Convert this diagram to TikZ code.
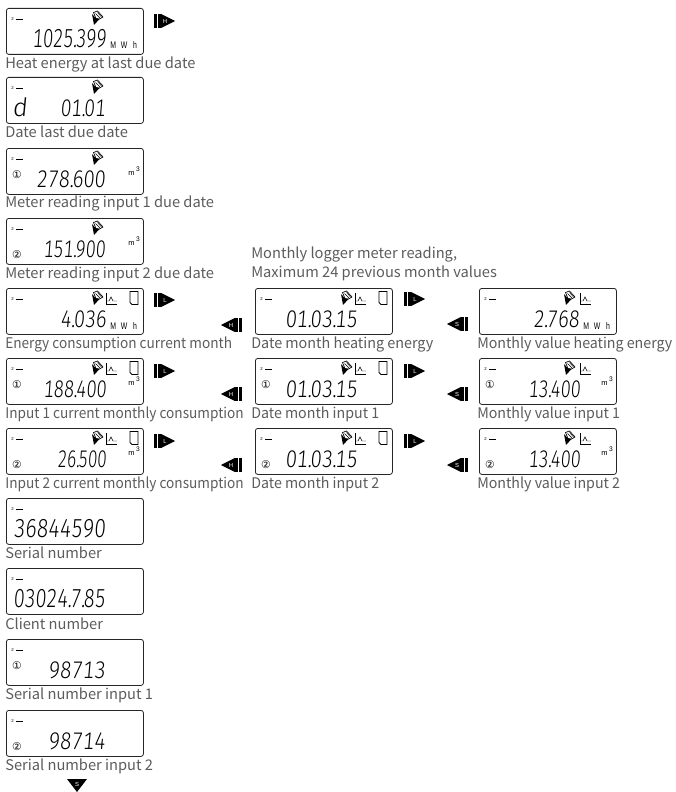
\documentclass[tikz,border=0pt]{standalone}
\usepackage{fontspec}
\setmainfont{Noto Sans CJK SC}
\newfontfamily\lcdfont[FakeSlant=0.1,Numbers={Lining,Monospaced}]{Fira Sans Light}
\newfontfamily\symfont{DejaVu Sans}
\newfontfamily\unitfont{Liberation Sans}
\definecolor{capgray}{gray}{0.36}
\newcommand{\dt}{.\kern-0.08em}
\tikzset{
 x=0.75pt,y=-0.75pt,
 lcdbox/.style={draw=black!85,line width=0.6pt,rounded corners=1.8pt,minimum width=102.75pt,minimum height=34.5pt,anchor=north west,inner sep=0pt},
 caption/.style={anchor=base west,inner sep=0pt,text=capgray,font=\fontsize{11pt}{12pt}\selectfont},
 digits/.style={anchor=base west,inner sep=0pt},
 unitlabel/.style={anchor=base west,inner sep=0pt,font=\unitfont\fontsize{7.2pt}{8pt}\selectfont},
 small2/.style={anchor=west,inner sep=0pt,font=\unitfont\fontsize{3.2pt}{4pt}\selectfont},
 inputmark/.style={anchor=center,inner sep=0pt,font=\symfont\fontsize{8pt}{9pt}\selectfont},
 keylabel/.style={inner sep=0pt,text=white,font=\unitfont\fontsize{4.4pt}{5pt}\selectfont},
}
\newcommand{\lcd}[7][18]{%
 \node[lcdbox] (#2) at (#3,#4) {};
 \node[small2] (#2two) at ([shift={(5,11)}]#2.north west) {2};
 \draw[line width=0.6pt] ([shift={(10,11)}]#2.north west) -- ([shift={(17,11)}]#2.north west);
 \pgfmathsetlengthmacro{\digw}{(#6-#5)*0.75pt}
 \node[digits] (#2d) at (#5,#4+39.5) {\resizebox{\digw}{\height}{\lcdfont\fontsize{#1pt}{#1pt}\selectfont #7}};
}
\newcommand{\capt}[5][1]{\node[caption] (#2) at (#3,#4) {\scalebox{#1}[1]{#5}};}
\newcommand{\mwh}[1]{\node[unitlabel] (#1u) at ([shift={(104,41)}]#1.north west) {\scalebox{.72}[1]{M}\kern3.6pt\scalebox{.72}[1]{W}\kern4.4pt\scalebox{.72}[1]{h}};}
\newcommand{\mcub}[1]{\node[unitlabel,font=\unitfont\fontsize{5.6pt}{6pt}\selectfont] (#1u) at ([shift={(122,27)}]#1.north west) {m\kern1.2pt\raisebox{2.6pt}{\fontsize{5pt}{5pt}\selectfont 3}};}
\newcommand{\inone}[1]{\node[inputmark] (#1i) at ([shift={(11,27)}]#1.north west) {①};}
\newcommand{\intwo}[1]{\node[inputmark] (#1i) at ([shift={(11,37)}]#1.north west) {②};}
\newcommand{\pen}[2]{%
 \begin{scope}[shift={(#1.north west)},shift={(#2,0)}]
  \fill (-5,6) -- (-3,17) -- (2.5,11) -- (-1,10.5) -- cycle;
  \draw[line width=0.5pt,line join=round] (-3.5,4.5) -- (0.5,3) -- (6,9) -- (2.5,11) -- (-1,10.5) -- cycle;
  \draw[line width=0.35pt] (-1.5,5.5) -- (3,10);
  \draw[line width=0.35pt] (0.5,4.5) -- (4.5,9);
 \end{scope}}
\newcommand{\chart}[2]{%
 \begin{scope}[shift={(#1.north west)},shift={(#2,0)}]
  \draw[line width=0.45pt] (0,5) -- (0,16) -- (11,16);
  \draw[line width=0.35pt] (0.5,13) -- (3,13) -- (5,9) -- (7,13) -- (11,13);
 \end{scope}}
\newcommand{\door}[2]{%
 \begin{scope}[shift={(#1.north west)},shift={(#2,0)}]
  \draw[line width=0.55pt] (0,3.5) -- (8,3.5) -- (8,16.5) -- (2,16.5) -- (0,14.5) -- cycle;
 \end{scope}}
\newcommand{\keyright}[4]{%
 \fill (#2,#3-7) rectangle ++(3,14);
 \fill (#2+3.8,#3-7) rectangle ++(3,14);
 \fill (#2+7.2,#3-7) -- (#2+21,#3) -- (#2+7.2,#3+7) -- cycle;
 \node[keylabel] (#1) at (#2+11,#3) {#4};}
\newcommand{\keyleft}[4]{%
 \fill (#2+18,#3-7) rectangle ++(3,14);
 \fill (#2+14.2,#3-7) rectangle ++(3,14);
 \fill (#2+13.8,#3-7) -- (#2,#3) -- (#2+13.8,#3+7) -- cycle;
 \node[keylabel] (#1) at (#2+10,#3) {#4};}
\begin{document}
\begin{tikzpicture}
\useasboundingbox (0,0) rectangle (675,792);
\lcd[19.5]{a}{6}{8}{32}{106}{1025\dt 399}\mwh{a}\pen{a}{91}
\capt{ac}{5}{68.5}{Heat energy at last due date}
\lcd{b}{6}{77}{60}{105}{01\dt 01}\pen{b}{91}
\node[anchor=base west,inner sep=0pt,font=\lcdfont\fontsize{19pt}{20pt}\selectfont] (bd2) at (12,117) {d};
\capt{bc}{5}{137}{Date last due date}
\lcd{c}{6}{148}{36}{105}{278\dt 600}\mcub{c}\inone{c}\pen{c}{91}
\capt{cc}{5}{207}{Meter reading input 1 due date}
\lcd{d}{6}{218}{43}{105}{151\dt 900}\mcub{d}\intwo{d}\pen{d}{91}
\capt{dc}{5}{278}{Meter reading input 2 due date}
\lcd{e}{6}{288}{60}{106}{4\dt 036}\mwh{e}\pen{e}{91}\chart{e}{100}\door{e}{124}
\capt[.93]{ec}{5}{348}{Energy consumption current month}
\lcd{f}{6}{358}{43}{106}{188\dt 400}\mcub{f}\inone{f}\pen{f}{91}\chart{f}{100}\door{f}{124}
\capt[.93]{fc}{5}{418}{Input 1 current monthly consumption}
\lcd{g}{6}{428}{57}{106}{26\dt 500}\mcub{g}\intwo{g}\pen{g}{91}\chart{g}{100}\door{g}{124}
\capt[.93]{gc}{5}{488}{Input 2 current monthly consumption}
\lcd[19.5]{h}{6}{498}{13}{105}{36844590}
\capt{hc}{5}{558}{Serial number}
\lcd[19.5]{i}{6}{568}{13}{105}{03024\dt 7\dt 85}
\capt{ic}{5}{629}{Client number}
\lcd{j}{6}{639}{48}{105}{98713}\inone{j}
\capt{jc}{5}{699}{Serial number input 1}
\lcd{k}{6}{710}{48}{105}{98714}\intwo{k}
\capt{kc}{5}{770}{Serial number input 2}
\capt{note1}{251}{258}{Monthly logger meter reading,}
\capt{note2}{251}{277}{Maximum 24 previous month values}
\lcd{m}{255}{288}{285}{357}{01\dt 03\dt 15}\pen{m}{91}\chart{m}{100}\door{m}{124}
\capt[.98]{mc}{251}{348}{Date month heating energy}
\lcd{n}{255}{358}{285}{357}{01\dt 03\dt 15}\inone{n}\pen{n}{91}\chart{n}{100}\door{n}{124}
\capt[.97]{nc}{251}{418}{Date month input 1}
\lcd{o}{255}{428}{285}{357}{01\dt 03\dt 15}\intwo{o}\pen{o}{91}\chart{o}{100}\door{o}{124}
\capt[.97]{oc}{251}{488}{Date month input 2}
\lcd{p}{479}{288}{533}{579}{2\dt 768}\mwh{p}\pen{p}{90}\chart{p}{101}
\capt[.97]{pc}{477}{348}{Monthly value heating energy}
\lcd{q}{479}{358}{528}{580}{13\dt 400}\mcub{q}\inone{q}\pen{q}{90}\chart{q}{101}
\capt[.97]{qc}{477}{418}{Monthly value input 1}
\lcd{r}{479}{428}{528}{580}{13\dt 400}\mcub{r}\intwo{r}\pen{r}{90}\chart{r}{101}
\capt[.97]{rc}{477}{488}{Monthly value input 2}
\keyright{k1}{154}{21}{H}
\keyright{k2}{154}{300}{L}
\keyright{k3}{154}{371}{L}
\keyright{k4}{154}{441}{L}
\keyleft{k5}{221}{325}{H}
\keyleft{k6}{221}{394}{H}
\keyleft{k7}{221}{465}{H}
\keyright{k8}{404}{299}{L}
\keyright{k9}{404}{371}{L}
\keyright{k10}{404}{441}{L}
\keyleft{k11}{447}{324}{S}
\keyleft{k12}{447}{394}{S}
\keyleft{k13}{447}{465}{S}
\fill (67,779) -- (87,779) -- (77,792) -- cycle;
\node[keylabel] (k14) at (77,784) {S};
\end{tikzpicture}
\end{document}
